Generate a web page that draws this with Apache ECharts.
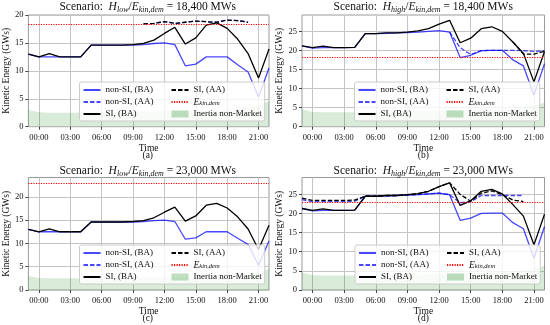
<!DOCTYPE html>
<html>
<head>
<meta charset="utf-8">
<script src="https://cdn.jsdelivr.net/npm/echarts@6/dist/echarts.min.js"></script>
<style>
html,body{margin:0;padding:0;background:#fff;}
#chart{width:550px;height:325px;}
</style>
</head>
<body>
<div id="chart"></div>
<script>
// ---- data (hours 23:00 of previous day .. 22:00) ----
const HOURS = ['23:00','00:00','01:00','02:00','03:00','04:00','05:00','06:00','07:00','08:00','09:00','10:00',
  '11:00','12:00','13:00','14:00','15:00','16:00','17:00','18:00','19:00','20:00','21:00','22:00'];

const LOW_NONSI_BA = [13.0,12.5,12.5,12.5,12.5,12.5,14.6,14.6,14.6,14.6,14.6,14.7,14.9,15.0,14.7,10.9,11.2,12.5,12.5,12.5,11.1,9.8,5.3,10.5];
const LOW_SI_BA    = [13.0,12.5,13.1,12.5,12.5,12.5,14.6,14.6,14.6,14.6,14.7,14.9,15.5,16.7,17.8,14.8,15.9,18.2,18.6,17.6,15.7,13.1,8.7,13.9];
const HIGH_NONSI_BA = [21.3,20.7,20.8,20.8,20.8,20.9,24.5,24.5,24.6,24.7,24.8,24.9,25.1,25.3,24.9,18.2,18.8,20.0,20.1,20.1,17.6,16.0,8.3,16.6];
const HIGH_SI_BA    = [21.3,20.8,21.2,20.8,20.8,20.9,24.5,24.5,24.7,24.7,24.9,25.2,25.8,27.0,28.0,22.1,23.3,25.8,26.3,25.1,22.3,19.3,11.8,19.8];

// after-adjustment series per scenario (null = not shown)
const A_NONSI_AA = [null,null,null,null,null,null,null,null,null,null,null,18.4,18.5,18.8,18.5,18.7,18.9,18.8,18.7,19.1,19.0,18.7,null,null];
const A_SI_AA    = [null,null,null,null,null,null,null,null,null,null,null,18.4,18.5,18.8,18.5,18.7,18.9,18.8,18.7,19.1,19.0,18.7,null,null];
const B_NONSI_AA = [null,null,null,null,null,null,null,null,null,null,null,null,null,null,24.9,20.8,19.0,20.0,20.1,20.1,20.1,20.0,19.8,20.0];
const B_SI_AA    = [null,null,null,null,null,null,null,null,null,null,null,null,null,null,null,null,null,null,null,null,22.3,19.1,19.1,19.9];
const C_NONSI_AA = [];
const C_SI_AA    = [];
const D_NONSI_AA = [23.6,23.1,23.1,23.1,23.1,23.2,24.5,24.5,24.6,24.7,24.8,24.9,25.1,25.3,24.9,22.8,23.1,24.7,24.7,24.7,24.7,24.7,null,null];
const D_SI_AA    = [24.0,23.4,23.4,23.4,23.4,23.5,24.5,24.5,24.7,24.7,24.9,25.2,25.8,27.0,28.0,25.0,23.2,25.3,25.9,24.9,23.5,23.1,null,null];

const LOW_NONMARKET  = [3.0,2.6,2.5,2.5,2.5,2.5,2.5,2.6,2.6,2.6,2.7,2.7,2.7,2.8,2.8,2.8,2.9,2.9,3.0,3.1,3.2,3.4,3.8,4.5];
const HIGH_NONMARKET = [4.6,3.9,3.8,3.8,3.8,3.8,3.8,3.9,3.9,4.0,4.1,4.1,4.2,4.2,4.3,4.3,4.4,4.4,4.5,4.6,4.8,5.1,5.6,6.3];

const EKIN_A = 18.4, EKIN_B = 18.4, EKIN_C = 23.0, EKIN_D = 23.0;
const Y_TICKS_A = [0,5,10,15,20];
const Y_TICKS_B = [0,5,10,15,20,25];
const PANEL_LABELS = ['(a)','(b)','(c)','(d)'];
const TITLES = [
  {h:'low',  v:'18,400'},
  {h:'high', v:'18,400'},
  {h:'low',  v:'23,000'},
  {h:'high', v:'23,000'}
];

// ---- layout ----
const FONT = 'Liberation Serif';
const BLUE = 'rgba(0,0,255,0.72)';
const GREEN = 'rgba(0,128,0,0.21)';
const panels = [
  {left:26.5, top:15,    h:111.7, ymax:20,    ticks:Y_TICKS_A, nonBA:LOW_NONSI_BA,  siBA:LOW_SI_BA,  nonAA:A_NONSI_AA, siAA:A_SI_AA, ek:EKIN_A, nm:LOW_NONMARKET,  lgL:79.5,  lgT:82},
  {left:302,  top:15,    h:111.7, ymax:29.4,  ticks:Y_TICKS_B, nonBA:HIGH_NONSI_BA, siBA:HIGH_SI_BA, nonAA:B_NONSI_AA, siAA:B_SI_AA, ek:EKIN_B, nm:HIGH_NONMARKET, lgL:354.5, lgT:82},
  {left:26.5, top:177.5, h:112.5, ymax:24.15, ticks:Y_TICKS_A, nonBA:LOW_NONSI_BA,  siBA:LOW_SI_BA,  nonAA:C_NONSI_AA, siAA:C_SI_AA, ek:EKIN_C, nm:LOW_NONMARKET,  lgL:79.5,  lgT:245},
  {left:302,  top:177.5, h:112.5, ymax:29.4,  ticks:Y_TICKS_B, nonBA:HIGH_NONSI_BA, siBA:HIGH_SI_BA, nonAA:D_NONSI_AA, siAA:D_SI_AA, ek:EKIN_D, nm:HIGH_NONMARKET, lgL:355,   lgT:245}
];
const GW = 242.5;

const grids = [], xAxes = [], yAxes = [], series = [], legends = [], titles = [];
const showIdx = (i) => i % 3 === 1;

panels.forEach((p, k) => {
  grids.push({left:p.left, top:p.top, width:GW, height:p.h, show:true, borderColor:'#9a9a9a', borderWidth:1, backgroundColor:'#fff', containLabel:false});
  xAxes.push({
    type:'category', gridIndex:k, data:HOURS, boundaryGap:false,
    name:'Time', nameLocation:'middle', nameGap:15.5,
    nameTextStyle:{fontFamily:FONT, fontSize:9.5, color:'#111'},
    axisLine:{show:false},
    axisTick:{show:true, interval:showIdx, length:3, lineStyle:{color:'#444'}},
    axisLabel:{interval:showIdx, fontFamily:FONT, fontSize:8.5, color:'#111', margin:6.5},
    splitLine:{show:true, interval:showIdx, lineStyle:{color:'#c4c4c4', width:1}}
  });
  yAxes.push({
    type:'value', gridIndex:k, min:0, max:p.ymax, interval:5,
    name:'Kinetic Energy (GWs)', nameLocation:'middle', nameGap:15,
    nameTextStyle:{fontFamily:FONT, fontSize:9.5, color:'#111'},
    axisLine:{show:false},
    axisTick:{show:true, length:3, lineStyle:{color:'#444'}, customValues:p.ticks},
    axisLabel:{fontFamily:FONT, fontSize:8.5, color:'#111', margin:5, customValues:p.ticks},
    splitLine:{show:true, lineStyle:{color:'#c4c4c4', width:1}}
  });
  const common = {type:'line', xAxisIndex:k, yAxisIndex:k, symbol:'none', showSymbol:false, animation:false, silent:true};
  series.push(Object.assign({}, common, {name:'Inertia non-Market', data:p.nm, z:1,
    lineStyle:{width:0, color:GREEN}, itemStyle:{color:GREEN}, areaStyle:{color:GREEN, origin:'start'}}));
  series.push(Object.assign({}, common, {name:'non-SI, (BA)', data:p.nonBA, z:2,
    lineStyle:{width:1.3, color:BLUE}, itemStyle:{color:BLUE}}));
  series.push(Object.assign({}, common, {name:'non-SI, (AA)', data:p.nonAA, z:2,
    lineStyle:{width:1.3, color:BLUE, type:[4.5,2]}, itemStyle:{color:BLUE}}));
  series.push(Object.assign({}, common, {name:'SI, (BA)', data:p.siBA, z:3,
    lineStyle:{width:1.3, color:'#000'}, itemStyle:{color:'#000'}}));
  series.push(Object.assign({}, common, {name:'SI, (AA)', data:p.siAA, z:3,
    lineStyle:{width:1.3, color:'#000', type:[4.5,2]}, itemStyle:{color:'#000'}}));
  series.push(Object.assign({}, common, {name:'Ekin', data:[], z:3,
    lineStyle:{width:1.2, color:'#ff0000', type:[1.2,1.3]}, itemStyle:{color:'#ff0000'},
    markLine:{silent:true, symbol:['none','none'], label:{show:false}, animation:false,
      lineStyle:{color:'#ff0000', width:1.2, type:[1.2,1.3]}, data:[{yAxis:p.ek}]}}));

  legends.push({
    left:p.lgL, top:p.lgT, orient:'vertical', height:35,
    itemWidth:17, itemHeight:7, itemGap:2,
    padding:[3,3,2,3],
    backgroundColor:'rgba(255,255,255,0.8)', borderColor:'#cccccc', borderWidth:1, borderRadius:2,
    selectedMode:false,
    itemStyle:{opacity:0},
    data:[
      {name:'non-SI, (BA)'},{name:'non-SI, (AA)'},{name:'SI, (BA)'},{name:'SI, (AA)'},{name:'Ekin'},
      {name:'Inertia non-Market', icon:'rect', itemStyle:{color:'rgba(0,128,0,0.25)', opacity:1}}
    ],
    formatter:(name) => name === 'Ekin' ? '{e|E}{s|kin,dem}' : name,
    textStyle:{fontFamily:FONT, fontSize:9, color:'#111', width:63, lineHeight:10,
      rich:{e:{fontFamily:FONT, fontStyle:'italic', fontSize:9.5, lineHeight:10, verticalAlign:'middle'},
            s:{fontFamily:FONT, fontStyle:'italic', fontSize:6.5, lineHeight:6, verticalAlign:'bottom'}}}
  });

  const t = TITLES[k];
  titles.push({
    left:p.left + GW/2, top:p.top - 15 + (k>=2 ? 1 : 0), textAlign:'center', padding:0,
    text:'{n|Scenario:  }{i|H}{s|' + t.h + '}{n|/}{i|E}{s|kin,dem}{n| = ' + t.v + ' MWs}',
    textStyle:{fontWeight:'normal', rich:{
      n:{fontFamily:FONT, fontSize:11.5, fontWeight:'normal', color:'#111', lineHeight:14, verticalAlign:'middle'},
      i:{fontFamily:FONT, fontSize:11.5, fontWeight:'normal', fontStyle:'italic', color:'#111', lineHeight:14, verticalAlign:'middle'},
      s:{fontFamily:FONT, fontSize:8, fontWeight:'normal', fontStyle:'italic', color:'#111', lineHeight:8, verticalAlign:'bottom'}
    }}
  });
  titles.push({
    left:p.left + GW/2, top:p.top + p.h + 23.5, textAlign:'center', padding:0,
    text:PANEL_LABELS[k],
    textStyle:{fontFamily:FONT, fontSize:9.5, fontWeight:'normal', color:'#111'}
  });
});

const chart = echarts.init(document.getElementById('chart'), null, {renderer:'canvas'});
chart.setOption({
  animation:false,
  backgroundColor:'#fff',
  title:titles, grid:grids, xAxis:xAxes, yAxis:yAxes, legend:legends, series:series
});
</script>
</body>
</html>
